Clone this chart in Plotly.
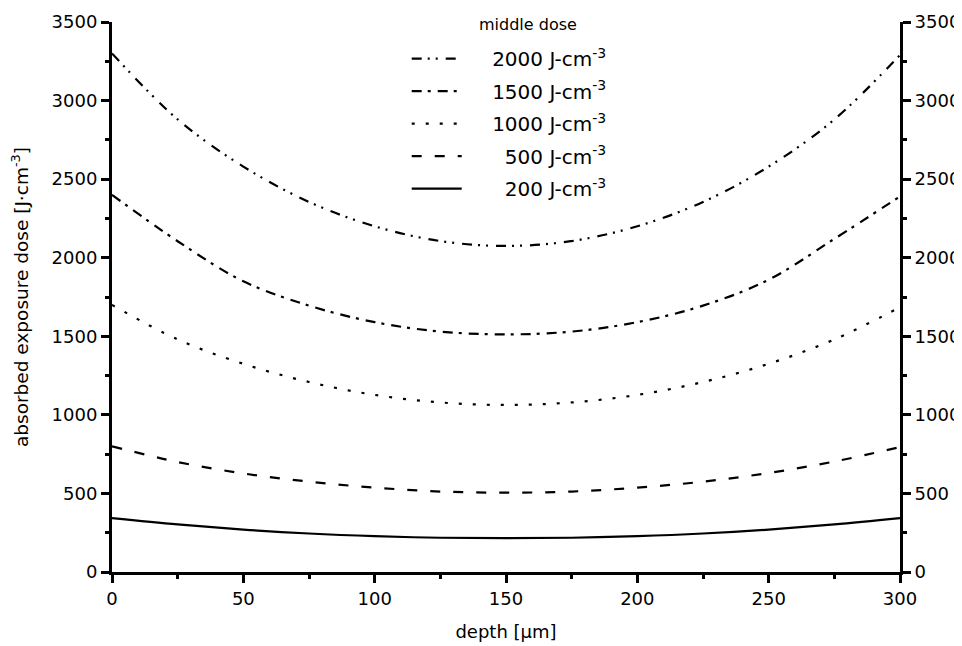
import plotly.graph_objects as go

depth = [0, 25, 50, 75, 100, 125, 150, 175, 200, 225, 250, 275, 300]
dose_2000 = [3300, 2880, 2580, 2355, 2200, 2106, 2075, 2106, 2200, 2355, 2580, 2880, 3290]
dose_1500 = [2400, 2105, 1850, 1695, 1590, 1530, 1512, 1530, 1590, 1695, 1860, 2120, 2390]
dose_1000 = [1700, 1480, 1325, 1209, 1127, 1079, 1063, 1079, 1127, 1209, 1325, 1480, 1685]
dose_500 = [800, 700, 627, 575, 537, 512, 505, 512, 537, 575, 630, 703, 795]
dose_200 = [343, 303, 270, 245, 228, 218, 215, 218, 228, 245, 270, 303, 343]

legend_title = "middle dose"
labels = ["2000 J-cm<sup>-3</sup>", "1500 J-cm<sup>-3</sup>", "1000 J-cm<sup>-3</sup>",
          "500 J-cm<sup>-3</sup>", "200 J-cm<sup>-3</sup>"]
pads = [4, 4, 4, 6, 6]
series = [dose_2000, dose_1500, dose_1000, dose_500, dose_200]
dashes = ["10px,6px,2px,6px,2px,8px", "10px,6px,3px,7px", "3px,11px", "10px,13px", "solid"]

FONT = "DejaVu Sans, Verdana, sans-serif"

fig = go.Figure()
for i, (lb, pd, ys, ds) in enumerate(zip(labels, pads, series, dashes)):
    fig.add_trace(go.Scatter(
        x=depth, y=ys, name="\u00a0" * pd + lb, mode="lines", line_shape="spline",
        line=dict(color="black", width=2.2, dash=ds), legendgroup=str(i),
    ))
# invisible trace to activate the right-hand axis
fig.add_trace(go.Scatter(x=depth, y=dose_200, yaxis="y2", mode="lines",
                         line=dict(width=0, color="rgba(0,0,0,0)"),
                         showlegend=False, hoverinfo="skip"))

axis_common = dict(
    showgrid=False, zeroline=False, showline=True, linecolor="black", linewidth=3,
    ticks="outside", ticklen=8, tickwidth=3, tickcolor="black",
    tickfont=dict(family=FONT, size=18, color="black"),
    automargin=False,
)
minor_common = dict(ticks="outside", ticklen=4, tickwidth=3, tickcolor="black")

fig.update_layout(
    width=954, height=638,
    margin=dict(l=104, r=62, t=14, b=74, autoexpand=False),
    plot_bgcolor="white", paper_bgcolor="white",
    font=dict(family=FONT, color="black"),
    xaxis=dict(range=[0, 300], dtick=50, tick0=0,
               minor=dict(dtick=25, **minor_common),
               title=dict(text="depth [μm]", font=dict(size=18), standoff=18),
               **axis_common),
    yaxis=dict(range=[0, 3500], dtick=500, tick0=0,
               minor=dict(dtick=250, **minor_common),
               title=dict(text="absorbed exposure dose [J·cm<sup>-3</sup>]", font=dict(size=18.5), standoff=21),
               **axis_common),
    yaxis2=dict(range=[0, 3500], dtick=500, tick0=0, overlaying="y", side="right",
                minor=dict(dtick=250, **minor_common),
                **axis_common),
    legend=dict(
        x=0.374, y=0.969, xanchor="left", yanchor="top",
        bgcolor="rgba(0,0,0,0)", borderwidth=0,
        font=dict(family=FONT, size=20, color="black"),
        tracegroupgap=3.5, itemwidth=50,
    ),
    annotations=[dict(text=legend_title, xref="paper", yref="paper", x=0.528, y=0.995,
                      xanchor="center", yanchor="middle", showarrow=False,
                      font=dict(family=FONT, size=16, color="black"))],
    showlegend=True,
)

fig.write_html("out.html")
